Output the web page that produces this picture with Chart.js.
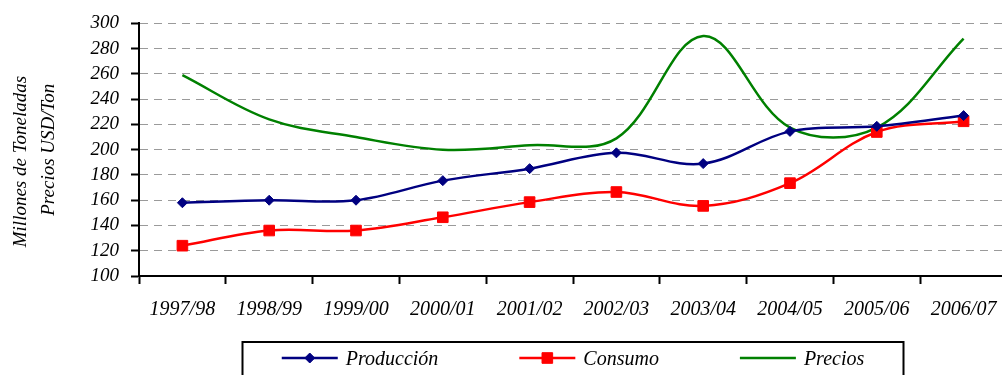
<!DOCTYPE html>
<html>
<head>
<meta charset="utf-8">
<script src="https://cdn.jsdelivr.net/npm/chart.js@4.4.1/dist/chart.umd.min.js"></script>
<style>
  html, body { margin: 0; padding: 0; background: #ffffff; overflow: hidden; }
  #wrap { width: 1002px; height: 375px; position: relative; overflow: hidden; }
  #chart { display: block; }
</style>
</head>
<body>
<div id="wrap"><canvas id="chart" width="1008" height="375"></canvas></div>
<script>
// Campaign years
const categories = ['1997/98', '1998/99', '1999/00', '2000/01', '2001/02',
                    '2002/03', '2003/04', '2004/05', '2005/06', '2006/07'];

// Millones de toneladas
const produccion = [158, 160, 160, 175.5, 185, 197.5, 189, 214.5, 218.5, 227];
const consumo    = [124, 136, 136, 146.5, 158.5, 166.5, 155.5, 173.5, 214, 222.5];

// USD por tonelada
const precios    = [259, 224, 210, 200, 203.5, 209, 290, 217.5, 217.5, 288];

// Value axis
const yMin = 100;
const yMax = 300;
const yStep = 20;

const seriesNames = ['Producción', 'Consumo', 'Precios'];
const axisTitle = ['Millones de Toneladas     ', 'Precios USD/Ton'];

const FONT = "'Liberation Serif', 'Times New Roman', serif";

// Framed legend row under the plot: a line with the series marker, then its name
const framedLegend = {
  id: 'framedLegend',
  afterDraw(chart) {
    const ctx = chart.ctx;
    const area = chart.chartArea;
    ctx.save();
    ctx.font = 'italic 20px ' + FONT;
    const items = chart.data.datasets.map(ds => ({ ds, w: ctx.measureText(ds.label).width }));
    const lineLen = 56, textGap = 8, itemGap = 81;
    const total = items.reduce((s, it) => s + lineLen + textGap + it.w, 0) + itemGap * (items.length - 1);
    let x = (area.left + area.right) / 2 - total / 2;
    const lineY = 358, textY = 360;

    ctx.lineWidth = 2;
    ctx.strokeStyle = '#000000';
    ctx.setLineDash([]);
    ctx.strokeRect(Math.round(x - 40) + 0.5, 342, Math.round(total + 79), 60);

    items.forEach(it => {
      const ds = it.ds;
      ctx.strokeStyle = ds.borderColor;
      ctx.lineWidth = ds.borderWidth;
      ctx.beginPath();
      ctx.moveTo(x, lineY);
      ctx.lineTo(x + lineLen, lineY);
      ctx.stroke();
      if (ds.pointRadius > 0 && Chart.helpers && Chart.helpers.drawPoint) {
        ctx.fillStyle = ds.pointBackgroundColor;
        ctx.strokeStyle = ds.pointBorderColor;
        ctx.lineWidth = 1;
        Chart.helpers.drawPoint(ctx, {
          pointStyle: ds.pointStyle,
          radius: ds.pointRadius,
          rotation: 0,
          borderWidth: 1
        }, x + lineLen / 2, lineY);
      }
      ctx.fillStyle = '#000000';
      ctx.textAlign = 'left';
      ctx.textBaseline = 'middle';
      ctx.fillText(ds.label, x + lineLen + textGap, textY);
      x += lineLen + textGap + it.w + itemGap;
    });
    ctx.restore();
  }
};

new Chart(document.getElementById('chart'), {
  type: 'line',
  data: {
    labels: categories,
    datasets: [
      {
        label: seriesNames[0],
        data: produccion,
        borderColor: '#000080',
        backgroundColor: '#000080',
        pointBackgroundColor: '#000080',
        pointBorderColor: '#000080',
        borderWidth: 2.5,
        pointStyle: 'rectRot',
        pointRadius: 5,
        pointBorderWidth: 1,
        tension: 0.36,
        fill: false
      },
      {
        label: seriesNames[1],
        data: consumo,
        borderColor: '#ff0000',
        backgroundColor: '#ff0000',
        pointBackgroundColor: '#ff0000',
        pointBorderColor: '#ff0000',
        borderWidth: 2.5,
        pointStyle: 'rect',
        pointRadius: 7.5,
        pointBorderWidth: 1,
        tension: 0.36,
        fill: false
      },
      {
        label: seriesNames[2],
        data: precios,
        borderColor: '#008000',
        backgroundColor: '#008000',
        pointBackgroundColor: '#008000',
        pointBorderColor: '#008000',
        borderWidth: 2.5,
        pointRadius: 0,
        tension: 0.36,
        fill: false
      }
    ]
  },
  options: {
    responsive: false,
    devicePixelRatio: 1,
    animation: false,
    events: [],
    layout: { autoPadding: false, padding: { top: 22, right: 1, bottom: 49, left: 0 } },
    plugins: {
      legend: { display: false },
      tooltip: { enabled: false },
      title: { display: false }
    },
    scales: {
      x: {
        type: 'category',
        offset: true,
        afterFit: s => { s.height = 50; s.paddingRight = 0; s.paddingLeft = 0; },
        grid: {
          offset: true,
          drawOnChartArea: false,
          drawTicks: true,
          tickLength: 8,
          tickWidth: 2,
          tickColor: '#000000'
        },
        border: { display: true, color: '#000000', width: 2 },
        ticks: {
          color: '#000000',
          font: { family: FONT, size: 20, style: 'italic' },
          padding: 14,
          maxRotation: 0,
          autoSkip: false
        }
      },
      y: {
        min: yMin,
        max: yMax,
        afterFit: s => { s.width = 139; },
        grid: {
          color: '#9a9a9a',
          lineWidth: 1,
          drawTicks: true,
          tickLength: 8,
          tickWidth: 2,
          tickColor: '#000000',
          tickBorderDash: []
        },
        border: { display: true, color: '#000000', width: 2, dash: [8, 6] },
        ticks: {
          stepSize: yStep,
          autoSkip: false,
          color: '#000000',
          font: { family: FONT, size: 19, style: 'italic' },
          padding: 12
        },
        title: {
          display: true,
          text: axisTitle,
          color: '#000000',
          font: { family: FONT, size: 19, style: 'italic', lineHeight: 28 / 19 },
          padding: { top: 7, bottom: 0 }
        }
      }
    }
  },
  plugins: [framedLegend]
});
</script>
</body>
</html>
